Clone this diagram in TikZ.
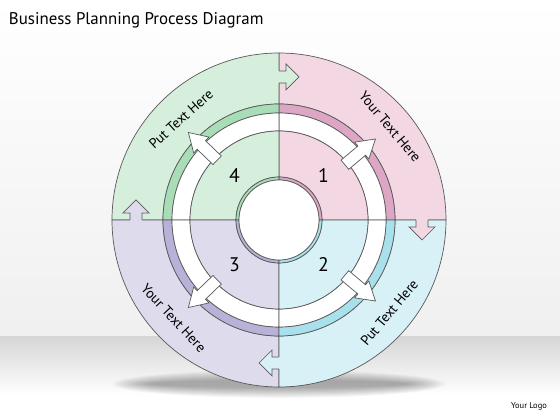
\documentclass[tikz,border=0pt]{standalone}
\usepackage{fontspec}
\setmainfont{PT Sans}
\definecolor{grnL}{HTML}{D5EFDC}
\definecolor{grnD}{HTML}{A9DDB8}
\definecolor{pnkL}{HTML}{F3D7E3}
\definecolor{pnkD}{HTML}{DDA6C5}
\definecolor{cynL}{HTML}{D7F1F6}
\definecolor{cynD}{HTML}{A8E1EB}
\definecolor{lavL}{HTML}{DEDBEC}
\definecolor{lavD}{HTML}{B8B2D8}
\begin{document}
\begin{tikzpicture}[x=0.025cm,y=0.025cm,
  band/.style={draw=black!65, line width=0.5pt},
  lbl/.style={font=\fontsize{10}{12}\selectfont},
  num/.style={font=\fontsize{14}{16}\selectfont}]
\useasboundingbox (0,0) rectangle (560,420);
% background and floor
\shade[top color=white, bottom color=black!6] (0,83) rectangle (560,420);
\shade[top color=black!16, bottom color=white] (0,25) rectangle (560,83);
\fill[white] (0,0) rectangle (560,25);
\foreach \i in {1,...,10}
  \fill[black, opacity=0.035] (279,36) ellipse ({170-4*\i} and {15-1.1*\i});
% title and logo
\node[anchor=west, font=\fontsize{12}{14}\selectfont] (title) at (4,400) {Business Planning Process Diagram};
\node[font=\fontsize{6}{7}\selectfont] (logo) at (529,14) {Your Logo};
\begin{scope}[shift={(279,200)}]
% quadrants
\foreach \a/\lc/\dc in {0/pnkL/pnkD, 90/grnL/grnD, 180/lavL/lavD, 270/cynL/cynD} {
  \filldraw[band, fill=\lc] (\a:116) arc[start angle=\a, delta angle=90, radius=116]
    -- ({\a+90}:167) arc[start angle={\a+90}, delta angle=-90, radius=167] -- cycle;
  \filldraw[band, fill=\dc] (\a:107) arc[start angle=\a, delta angle=90, radius=107]
    -- ({\a+90}:116) arc[start angle={\a+90}, delta angle=-90, radius=116] -- cycle;
  \filldraw[band, fill=white] (\a:89) arc[start angle=\a, delta angle=90, radius=89]
    -- ({\a+90}:107) arc[start angle={\a+90}, delta angle=-90, radius=107] -- cycle;
  \filldraw[band, fill=\lc] (\a:43) arc[start angle=\a, delta angle=90, radius=43]
    -- ({\a+90}:89) arc[start angle={\a+90}, delta angle=-90, radius=89] -- cycle;
  \filldraw[band, fill=\dc] (\a:40) arc[start angle=\a, delta angle=90, radius=40]
    -- ({\a+90}:43) arc[start angle={\a+90}, delta angle=-90, radius=43] -- cycle;
}
\filldraw[band, fill=white] (0,0) circle (40);
% arrows between the outer bands
\foreach \t/\c in {90/grnL, 0/pnkL, -90/cynL, 180/lavL} {
  \begin{scope}[rotate=\t-90]
    \fill[\c] (-1,137) -- (7,137) -- (7,130) -- (20,143) -- (7,156) -- (7,149) -- (-1,149) -- cycle;
    \draw[band] (0,149) -- (7,149) -- (7,156) -- (20,143) -- (7,130) -- (7,137) -- (0,137);
  \end{scope}
}
% white arrows across the gap
\foreach \t in {40,-40,136,-136} {
  \begin{scope}[rotate=\t]
    \filldraw[band, fill=white] (86,-6) -- (108,-6) -- (108,-11) -- (126,0) -- (108,11) -- (108,6) -- (86,6) -- cycle;
  \end{scope}
}
% labels
\node[lbl, rotate=42] (tl) at (134:141) {Put Text Here};
\node[lbl, rotate=-50] (tr) at (40:145) {Your Text Here};
\node[lbl, rotate=50] (br) at (-40:144) {Put Text Here};
\node[lbl, rotate=-47] (bl) at (-137:144) {Your Text Here};
\node[num] (n1) at (45:63) {1};
\node[num] (n2) at (-45:63) {2};
\node[num] (n3) at (-135:63) {3};
\node[num] (n4) at (135:63) {4};
\end{scope}
\end{tikzpicture}
\end{document}
